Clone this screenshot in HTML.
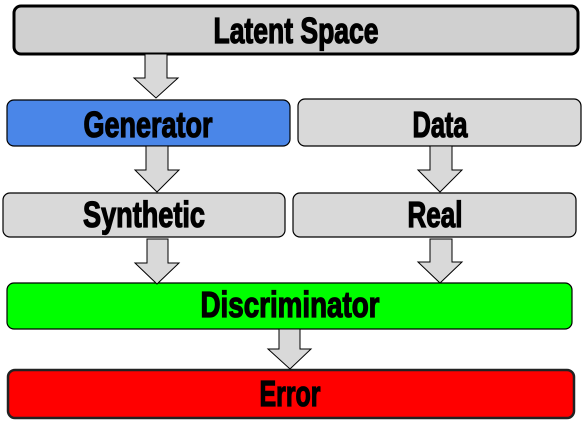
<!DOCTYPE html>
<html><head><style>body{margin:0;background:#fff}svg{display:block}</style></head><body>
<svg width="583" height="425" viewBox="0 0 583 425" xmlns="http://www.w3.org/2000/svg">
<g stroke="#000" stroke-width="1.2">
<rect x="14" y="6" width="564" height="48" rx="7" fill="#d0d0d0" stroke-width="3"/>
<rect x="7" y="100" width="283" height="46" rx="7" fill="#4a86e8"/>
<rect x="298" y="99" width="283" height="47" rx="7" fill="#d9d9d9"/>
<rect x="3" y="193" width="282" height="44" rx="7" fill="#d9d9d9"/>
<rect x="293" y="193" width="283" height="44" rx="7" fill="#d9d9d9"/>
<rect x="7" y="283" width="565" height="46" rx="7" fill="#00ff00"/>
<rect x="8" y="370" width="566" height="48" rx="7" fill="#ff0000" stroke-width="2.5" stroke="#222"/>
<g fill="#d9d9d9" stroke-width="1">
<polygon points="145,54 167,54 167,78 178,78 156,98 134,78 145,78"/>
<polygon points="146,146 168,146 168,170 179,170 157,192 135,170 146,170"/>
<polygon points="430,146 452,146 452,170 462,170 440,192 418,170 430,170"/>
<polygon points="147,239 168,239 168,263 179,263 157,284 135,263 147,263"/>
<polygon points="430,239 452,239 452,262 462,262 440,283 418,262 430,262"/>
<polygon points="279,329 300,329 300,349 311,349 290,369 268,349 279,349"/>
</g>
</g>
<g font-family="'Liberation Sans Narrow','Liberation Sans',sans-serif" font-weight="bold" font-size="36" fill="#000" stroke="#000" stroke-width="1.3" text-anchor="middle">
<text x="296" y="43" textLength="165" lengthAdjust="spacingAndGlyphs">Latent Space</text>
<text x="148" y="137" textLength="129" lengthAdjust="spacingAndGlyphs">Generator</text>
<text x="440" y="137" textLength="55" lengthAdjust="spacingAndGlyphs">Data</text>
<text x="144" y="227" textLength="122" lengthAdjust="spacingAndGlyphs">Synthetic</text>
<text x="435" y="227" textLength="55" lengthAdjust="spacingAndGlyphs">Real</text>
<text x="290" y="317" textLength="179" lengthAdjust="spacingAndGlyphs">Discriminator</text>
<text x="290" y="406" textLength="61" lengthAdjust="spacingAndGlyphs">Error</text>
</g>
</svg>
</body></html>
